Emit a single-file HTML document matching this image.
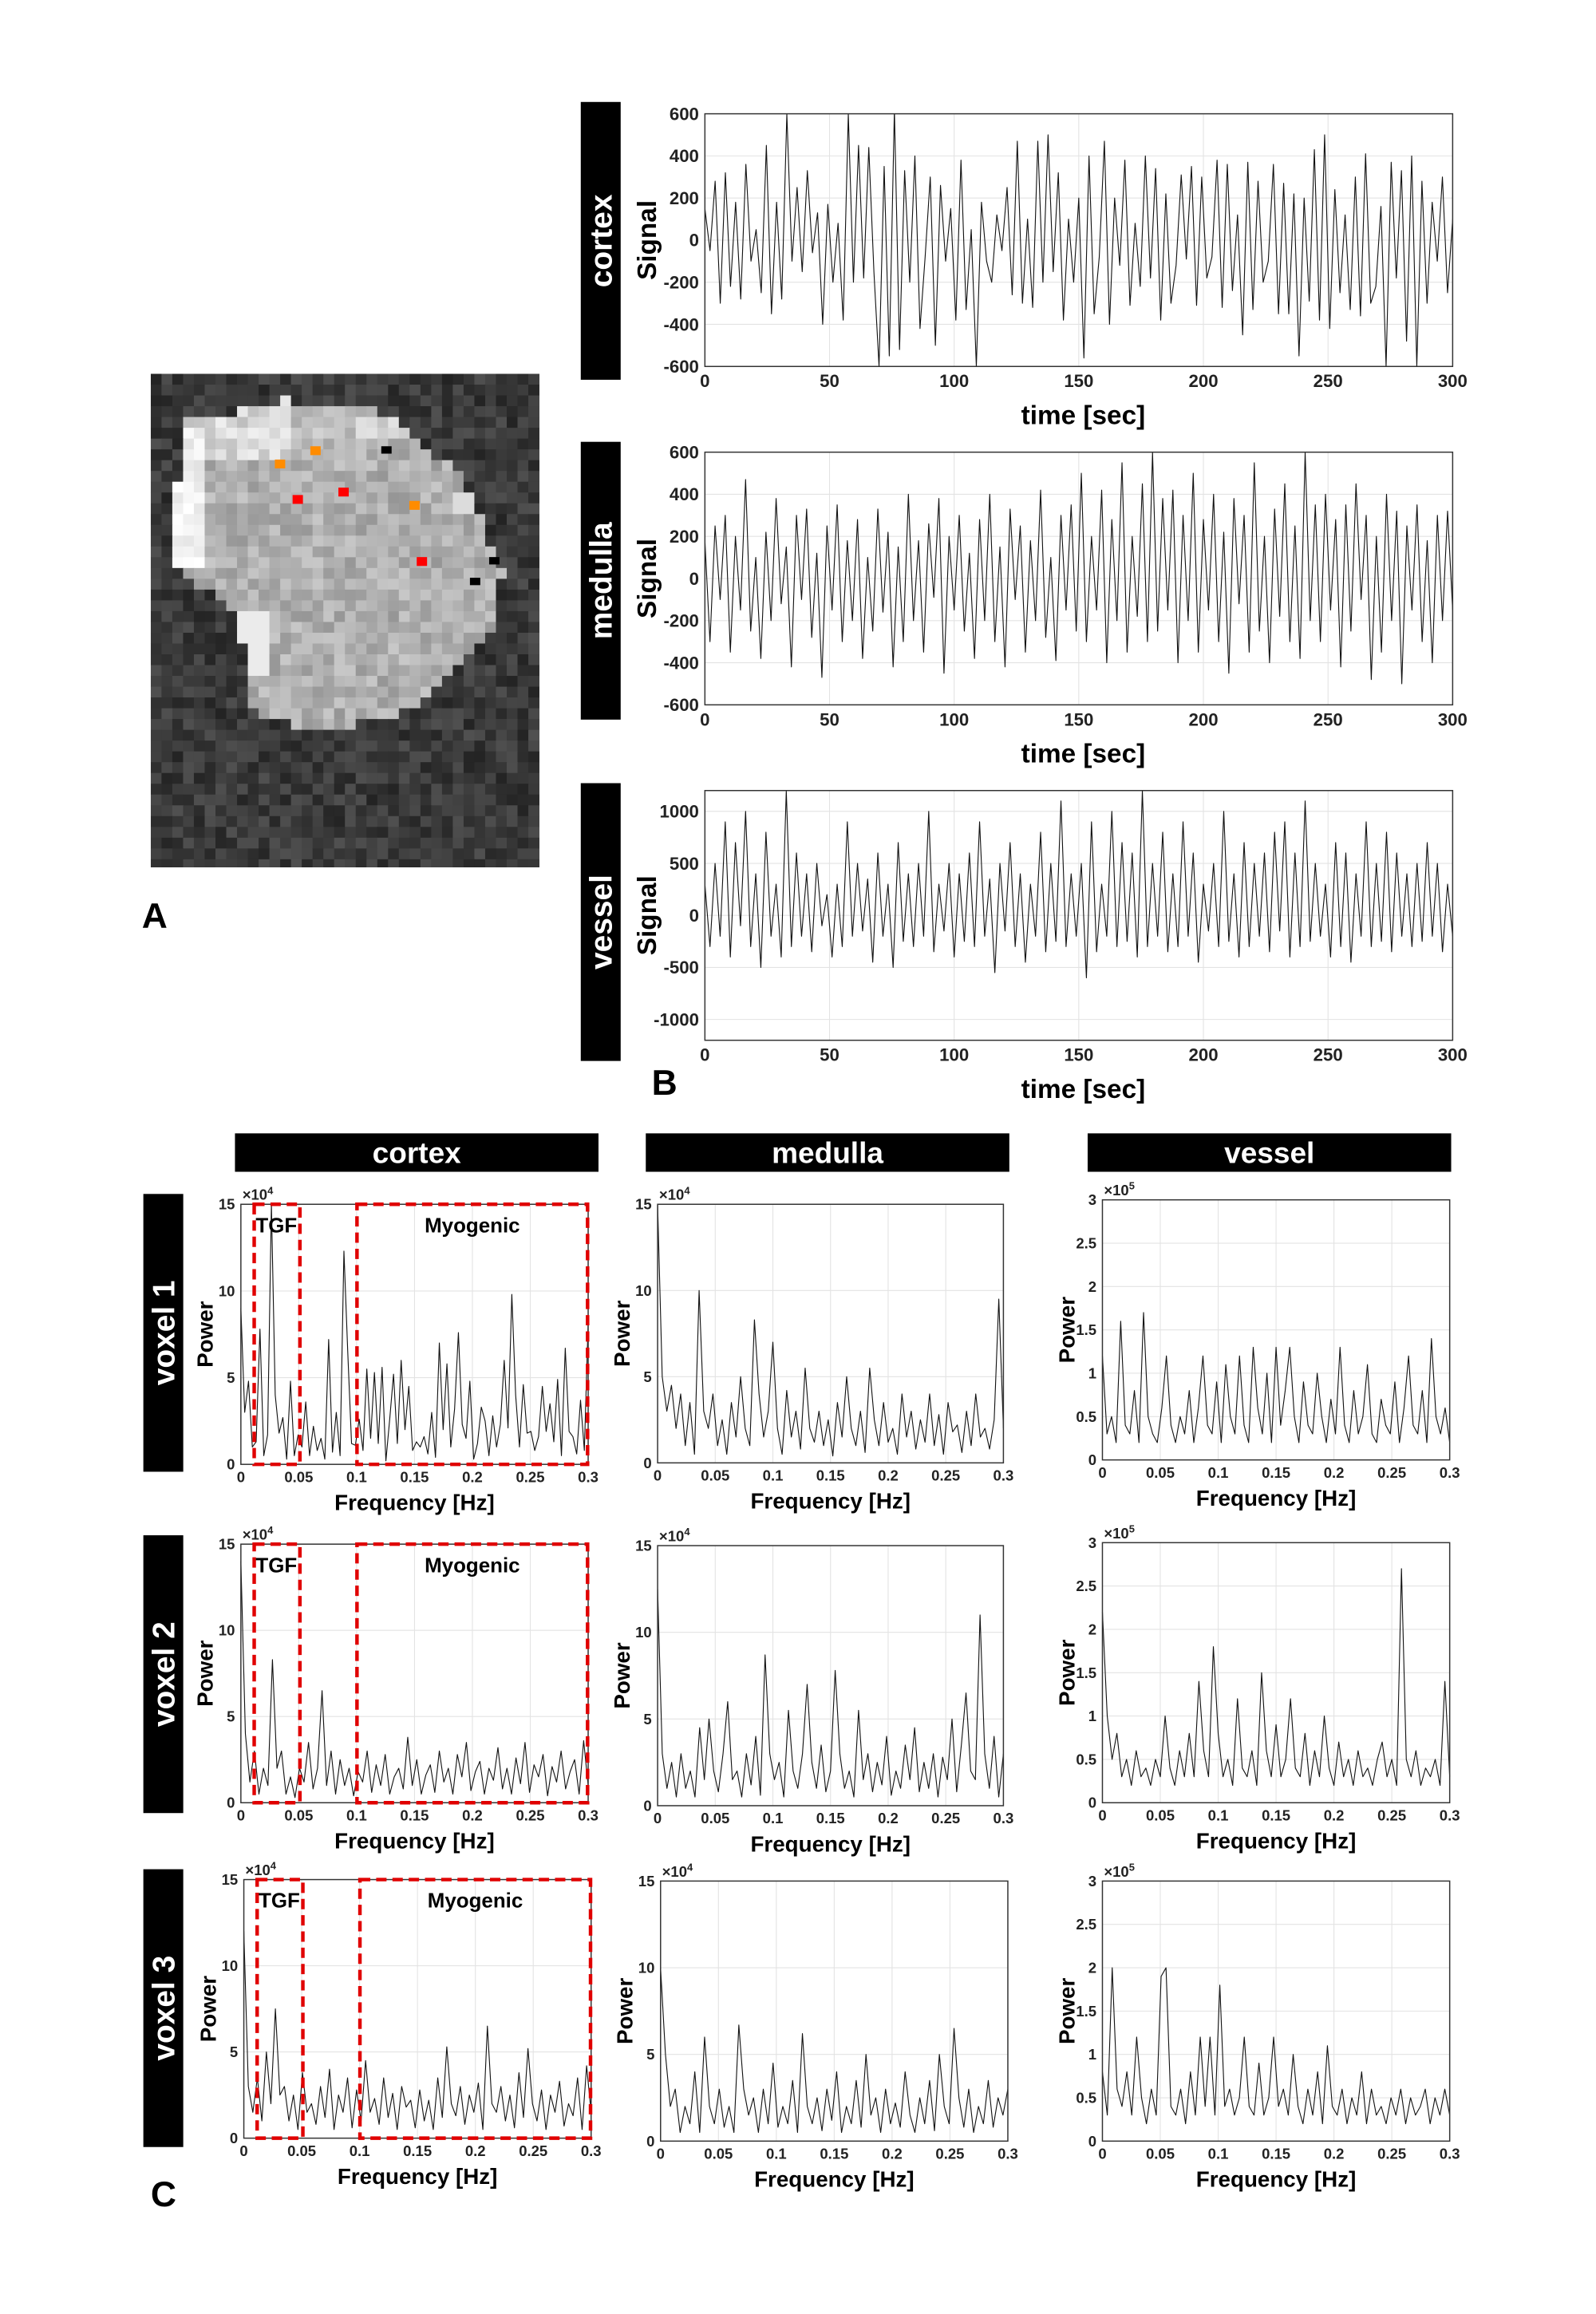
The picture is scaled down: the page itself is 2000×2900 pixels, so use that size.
<!DOCTYPE html>
<html><head><meta charset="utf-8"><style>
html,body{margin:0;padding:0;background:#fff}
svg{display:block}
text{font-family:"Liberation Sans",Arial,sans-serif;font-weight:bold}
</style></head><body>
<svg id="fig" xmlns="http://www.w3.org/2000/svg" width="2000" height="2900" viewBox="0 0 1080 1566">
<defs>
<clipPath id="imgclip"><rect x="102" y="253" width="263" height="334"/></clipPath>
</defs>
<g id="mri" clip-path="url(#imgclip)">
<rect x="102" y="253" width="263" height="334" fill="#3b3b3b"/>
<g id="mripix"></g>
<rect x="210" y="302" width="7" height="6" fill="#ff8c00"/>
<rect x="186" y="311" width="7" height="6" fill="#ff8c00"/>
<rect x="277" y="339" width="7" height="6" fill="#ff8c00"/>
<rect x="258" y="302" width="7" height="5" fill="#000"/>
<rect x="331" y="377" width="7" height="5" fill="#000"/>
<rect x="318" y="391" width="7" height="5" fill="#000"/>
<rect x="198" y="335" width="7" height="6" fill="#ff0000"/>
<rect x="229" y="330" width="7" height="6" fill="#ff0000"/>
<rect x="282" y="377" width="7" height="6" fill="#ff0000"/>
</g>
<text x="96" y="628" font-size="24">A</text>
<text x="441" y="741" font-size="24">B</text>
<text x="102" y="1493" font-size="24">C</text>
<g id="plots"></g>
</svg>
<script>
const timeTicksX = [0,50,100,150,200,250,300];
const signalTicksY = [-600,-400,-200,0,200,400,600];
const vesselTicksY = [-1000,-500,0,500,1000];
const freqTicksX = [0,0.05,0.1,0.15,0.2,0.25,0.3];
const freqTickLabels = ["0","0.05","0.1","0.15","0.2","0.25","0.3"];
const powerTicksCM = [0,5,10,15];
const powerTicksV = [0,0.5,1,1.5,2,2.5,3];
const tissueNames = ["cortex","medulla","vessel"];
const voxelNames = ["voxel 1","voxel 2","voxel 3"];

const cortexSignal = [150,-50,280,-300,320,-220,180,-280,360,-100,50,-250,450,-350,180,-280,600,-100,250,-150,330,-60,130,-400,170,-200,80,-380,600,-200,450,-180,440,-150,-600,350,-550,620,-520,330,-200,400,-420,-80,300,-500,260,-100,150,-380,380,-330,50,-600,180,-100,-200,120,-50,250,-260,470,-300,100,-320,470,-200,500,-150,320,-380,100,-200,200,-560,400,-350,-80,470,-400,200,-120,380,-310,80,-220,400,-180,340,-380,220,-300,-120,310,-90,350,-310,300,-180,-80,380,-320,360,-240,120,-450,370,-330,280,-200,-100,360,-350,270,-350,220,-550,200,-290,430,-380,500,-420,240,-250,120,-330,300,-360,410,-300,-220,160,-600,370,-180,330,-480,400,-600,280,-300,180,-100,300,-250,100];
const medullaSignal = [180,-300,250,-100,300,-350,200,-150,470,-250,100,-380,220,-200,380,-120,150,-420,300,-100,330,-280,120,-470,250,-150,350,-300,180,-200,280,-380,100,-250,330,-160,220,-420,150,-300,400,-200,180,-350,260,-90,380,-450,200,-150,300,-250,120,-380,280,-200,400,-300,150,-420,330,-100,250,-350,180,-200,420,-280,100,-390,300,-150,350,-250,500,-300,200,-150,420,-400,280,-200,550,-350,200,-180,450,-300,600,-250,380,-150,420,-400,300,-200,500,-350,280,-150,400,-300,220,-450,380,-120,300,-350,550,-250,200,-400,330,-180,450,-300,250,-380,600,-200,350,-300,400,-150,280,-420,350,-250,450,-100,300,-480,200,-350,400,-200,320,-500,250,-150,350,-300,180,-400,300,-200,320,-150];
const vesselSignal = [300,-300,500,-200,900,-400,700,-100,1000,-300,400,-500,800,-200,300,-400,1200,-300,600,-200,400,-350,500,-100,200,-400,300,-300,900,-200,500,-150,350,-450,600,-200,300,-500,700,-250,400,-300,500,-200,1000,-350,300,-150,500,-400,400,-250,600,-300,900,-200,350,-550,500,-150,700,-300,400,-450,300,-200,800,-350,500,-250,1100,-300,400,-200,500,-600,900,-350,300,-200,1000,-300,700,-250,600,-400,1200,-300,500,-200,800,-350,400,-300,900,-200,600,-450,300,-150,500,-300,1000,-250,400,-400,700,-300,500,-200,600,-350,800,-150,900,-400,600,-300,1100,-250,500,-200,300,-400,700,-300,600,-450,400,-200,900,-300,500,-250,800,-350,600,-200,400,-300,500,-250,700,-200,500,-350,300,-200];

const specCortex1 = [9,3,4.8,1,1.3,7.8,0.5,1.7,15,4,1.8,2.7,0.3,4.8,0.5,1.7,1,3.6,0.5,2.2,0.8,1.5,0.3,7.2,0.7,3,0.5,12.3,6.5,1.2,1.1,2.6,0.8,5.5,1.5,5.3,1.2,5.6,0.2,2.6,5.2,1.2,6,2,4.5,0.8,1.3,1,1.6,0.6,3,0.4,7,2,5.8,1,3.2,7.6,2.3,1.5,4.8,0.3,1.2,3.3,2.5,0.5,2.8,1,2.3,6,2.1,9.8,4,1,4.6,1.8,1.9,0.8,1.6,4.5,1.9,3.5,1.3,4.9,0.5,6.7,1.9,1.6,0.6,3.7,0.8,8.2];
const specCortex2 = [14,4,1.2,3,0.5,2,1,8.3,2,3,0.5,1.5,0.3,2,1.2,3.5,0.8,2,6.5,1,3,0.5,2.5,1,2,0.4,1.8,1.2,3,0.6,2.2,1,2.8,0.5,1.5,2,0.8,3.8,1,2.5,0.5,1.6,2.2,0.6,3,1.2,2,0.5,2.8,1.5,3.5,0.7,1.8,2.4,0.5,2,1.3,3.2,0.8,2,0.5,2.6,1.1,3.5,0.6,2.2,1.5,2.8,0.4,2.1,1.2,3,0.8,1.8,2.5,0.5,3.6,1];
const specCortex3 = [12,3,1.5,3.5,1,5,2,7.5,2.5,3,1,2.5,0.5,3.8,1.5,2,0.8,3,1.2,4,0.5,2.5,1.5,3.5,0.6,2.8,1,4.5,1.5,2.3,0.8,3.5,1.2,2.6,0.5,3,1.8,2.2,0.6,2.8,1,2.2,0.5,3.5,1.2,5.3,2,1.3,3,0.8,2.5,1.5,3.2,0.5,6.5,2,1.5,3,1,2.5,0.6,3.8,1.2,5.2,2,1,2.8,0.5,2.5,1.5,3.3,0.7,2,1.3,3.5,0.5,4.2,1.5];
const specMedulla1 = [15,5,3,4.5,2,4,1,3.5,0.5,10,3,2,4,1,2.5,0.5,3.5,1.5,5,2,1,8.3,4,1.5,3,7,2,0.5,4.2,1.5,3,0.8,5.5,2,1.2,3,1,2.5,0.4,3.5,1.5,5,2,1,3,0.6,5.5,2.5,1,3.5,1.2,2,0.5,4,1.5,3,0.8,2.5,1.2,4,1,2.8,0.5,3.5,1.8,2.2,0.6,3,1,4,1.5,2,0.8,2.5,9.5,2];
const specMedulla2 = [12.5,3,1,2.5,0.5,3,1,2,0.5,4.5,1.5,5,2,0.8,3,6,1.5,2,0.5,3,1.2,4,0.6,8.7,3,1.5,2.5,0.5,5.5,2,1,3,7,2.5,1,3.5,0.8,2,7.8,3,1,2,0.5,5.5,1.5,3,0.8,2.5,1.2,4,0.6,2,1,3.5,1.5,4.5,0.8,2.5,1,3,0.5,2.8,1.5,5,0.8,3.5,6.5,2,1.5,11,3,1,4,0.5,3];
const specMedulla3 = [10,5,2,3,0.5,2,1,4,0.5,6,2,1,3,0.8,2,0.5,6.7,3,1.5,2.5,0.5,3,1,4.5,0.8,2,1,3.5,0.5,6.2,2,1,2.5,0.6,3,1.2,4,0.5,2,1,3.5,0.8,5,1.5,2.5,0.5,3,1,2.2,0.8,4,1.5,0.5,2.5,1,3.5,0.6,5,2,1,6.5,2.5,0.8,3,0.5,2,1,3.5,0.8,2.5,1.5,3];
const specVessel1 = [1.2,0.3,0.5,0.2,1.6,0.4,0.3,0.8,0.2,1.7,0.5,0.3,0.2,0.6,1.2,0.4,0.2,0.5,0.3,0.8,0.2,0.6,1.2,0.4,0.3,0.9,0.2,1.1,0.5,0.3,1.2,0.4,0.2,1.3,0.6,0.3,1.0,0.2,1.3,0.4,0.8,1.3,0.5,0.2,0.9,0.4,0.3,1.0,0.5,0.2,0.7,0.3,1.3,0.4,0.2,0.8,0.3,0.5,1.1,0.3,0.2,0.7,0.4,0.3,0.9,0.2,0.6,1.2,0.4,0.3,0.8,0.2,1.4,0.5,0.3,0.6,0.2];
const specVessel2 = [2.2,1,0.5,0.8,0.3,0.5,0.2,0.6,0.3,0.4,0.2,0.5,0.3,1,0.4,0.2,0.6,0.3,0.8,0.3,1.4,0.6,0.3,1.8,0.8,0.3,0.5,0.2,1.2,0.4,0.3,0.6,0.2,1.5,0.6,0.3,0.9,0.3,0.5,1.2,0.4,0.3,0.8,0.2,0.6,0.3,1,0.4,0.2,0.7,0.3,0.5,0.2,0.6,0.3,0.4,0.2,0.5,0.7,0.3,0.5,0.2,2.7,0.5,0.3,0.6,0.2,0.4,0.3,0.5,0.2,1.4,0.3];
const specVessel3 = [0.8,0.3,2.0,0.6,0.4,0.8,0.3,1.2,0.5,0.2,0.6,0.3,1.9,2.0,0.4,0.3,0.6,0.2,0.8,0.3,1.2,0.4,1.2,0.3,1.8,0.4,0.6,0.3,0.5,1.2,0.4,0.3,0.9,0.3,0.5,1.2,0.4,0.6,0.3,1.0,0.4,0.2,0.6,0.3,0.8,0.2,1.1,0.4,0.3,0.6,0.2,0.5,0.3,0.8,0.2,0.6,0.3,0.4,0.2,0.5,0.3,0.6,0.2,0.5,0.3,0.4,0.6,0.2,0.5,0.3,0.6,0.3];
const tgfBand = [0.0115, 0.051];
const myoBand = [0.1003, 0.2995];

const NS = "http://www.w3.org/2000/svg";
const root = document.getElementById("plots");
function mk(tag, attrs, parent, txt){
  const e = document.createElementNS(NS, tag);
  for (const k in attrs) e.setAttribute(k, attrs[k]);
  if (txt !== undefined) e.textContent = txt;
  (parent || root).appendChild(e);
  return e;
}

// ---- pixelated MRI texture ----
(function(){
  const pg = document.getElementById("mripix");
  const poly = [[126,286],[191,271],[254,276],[313,322],[340,387],[331,432],[272,484],[218,495],[173,486],[160,414],[131,393],[115,378],[120,324]];
  function inside(x,y){let c=false;for(let i=0,j=poly.length-1;i<poly.length;j=i++){const [xi,yi]=poly[i],[xj,yj]=poly[j];if(((yi>y)!=(yj>y))&&(x<(xj-xi)*(y-yi)/(yj-yi)+xi))c=!c;}return c;}
  function h(i,j){let s=Math.sin(i*12.9898+j*78.233)*43758.5453;return s-Math.floor(s);}
  const cs=7.3;
  for(let j=0;j<46;j++)for(let i=0;i<36;i++){
    const x=102+i*cs,y=253+j*cs,cx=x+cs/2,cy=y+cs/2;
    let v;
    if(inside(cx,cy)){
      v=150+h(i,j)*50;
      if(cx<137&&cy>290&&cy<385) v=225+h(i,j)*30;
      else if(cy<310&&cx<200) v=190+h(i,j)*50;
      else if(cy<300) v=170+h(i,j)*60;
      if(cx>163&&cx<180&&cy>410&&cy<460) v=235;
      if(cx>305&&cy>330&&cy<350) v=220;
      if(cx>315&&cy>440) v=210;
    } else v=35+h(i,j)*45;
    v=Math.min(255,Math.round(v));
    const r=mk("rect",{x:x.toFixed(1),y:y.toFixed(1),width:cs+0.3,height:cs+0.3,fill:`rgb(${v},${v},${v})`},pg);
  }
})();

function blackBarV(x,y,w,h,label,name){
  const g = mk("g",{});
  
  
  mk("rect",{x:x,y:y,width:w,height:h,fill:"#000"},g);
  mk("text",{x:0,y:0,fill:"#fff","font-size":21,"text-anchor":"middle",transform:`translate(${x+w/2+7.5},${y+h/2}) rotate(-90)`},g,label);
}
function blackBarH(x,y,w,h,label,name){
  const g = mk("g",{});
  
  
  mk("rect",{x:x,y:y,width:w,height:h,fill:"#000"},g);
  mk("text",{x:x+w/2,y:y+h/2+7,fill:"#fff","font-size":20,"text-anchor":"middle"},g,label);
}
function axes(L,T,R,B,xmin,xmax,ymin,ymax,xticks,xlabels,yticks,ylabels,fs,name){
  const g = mk("g",{});
  
  
  const sx = v => L + (v-xmin)/(xmax-xmin)*(R-L);
  const sy = v => B - (v-ymin)/(ymax-ymin)*(B-T);
  mk("rect",{x:L,y:T,width:R-L,height:B-T,fill:"#fff"},g);
  xticks.forEach((v,i)=>{
    mk("line",{x1:sx(v),x2:sx(v),y1:T,y2:B,stroke:"#e3e3e3","stroke-width":0.6},g);
    const tl = mk("text",{x:sx(v),y:B+fs+2,"font-size":fs,"text-anchor":"middle",fill:"#222"},g,xlabels[i]);
    
    
  });
  yticks.forEach((v,i)=>{
    mk("line",{x1:L,x2:R,y1:sy(v),y2:sy(v),stroke:"#e3e3e3","stroke-width":0.6},g);
    const tl = mk("text",{x:L-4,y:sy(v)+fs*0.35,"font-size":fs,"text-anchor":"end",fill:"#222"},g,ylabels[i]);
    
    
  });
  return {g,sx,sy,L,T,R,B};
}
function frame(a){
  mk("rect",{x:a.L,y:a.T,width:a.R-a.L,height:a.B-a.T,fill:"none",stroke:"#333","stroke-width":0.8},a.g);
}
function line(a,xs,ys,name){
  let d="";
  for(let i=0;i<ys.length;i++){ d += (i?"L":"M")+a.sx(xs[i]).toFixed(2)+","+a.sy(ys[i]).toFixed(2); }
  const p = mk("path",{d:d,fill:"none",stroke:"#111","stroke-width":0.6,"stroke-linejoin":"round"},a.g);
  
  
}

const timePanels = [
  {name:"cortex",data:cortexSignal,T:77,B:248,bar:[393,69,27,188],ymin:-600,ymax:600,yt:signalTicksY},
  {name:"medulla",data:medullaSignal,T:306,B:477,bar:[393,299,27,188],ymin:-600,ymax:600,yt:signalTicksY},
  {name:"vessel",data:vesselSignal,T:535,B:704,bar:[393,530,27,188],ymin:-1200,ymax:1200,yt:vesselTicksY}
];
timePanels.forEach(p=>{
  blackBarV(p.bar[0],p.bar[1],p.bar[2],p.bar[3],p.name,p.name+"-row-label");
  const a = axes(477,p.T,983,p.B,0,300,p.ymin,p.ymax,timeTicksX,timeTicksX.map(String),p.yt,p.yt.map(String),12,p.name+"-time-chart");
  const xs = p.data.map((v,i)=>i*300/(p.data.length-1));
  const cp = "cp-"+p.name;
  const c = mk("clipPath",{id:cp},a.g); mk("rect",{x:477,y:p.T,width:506,height:p.B-p.T},c);
  const gg = mk("g",{"clip-path":`url(#${cp})`},a.g);
  line({g:gg,sx:a.sx,sy:a.sy},xs,p.data,p.name+"-signal-line");
  frame(a);
  const yl = mk("text",{x:0,y:0,"font-size":18,"text-anchor":"middle",transform:`translate(${444},${(p.T+p.B)/2}) rotate(-90)`},a.g,"Signal");
  
  
  const xl = mk("text",{x:733,y:p.B+39,"font-size":18,"text-anchor":"middle"},a.g,"time [sec]");
  
  
});

blackBarH(159,767,246,26,tissueNames[0],"cortex-column-header");
blackBarH(437,767,246,26,tissueNames[1],"medulla-column-header");
blackBarH(736,767,246,26,tissueNames[2],"vessel-column-header");
blackBarV(97,808,27,188,voxelNames[0],"voxel-1-label");
blackBarV(97,1039,27,188,voxelNames[1],"voxel-2-label");
blackBarV(97,1265,27,188,voxelNames[2],"voxel-3-label");

const specPanels = [
  {d:specCortex1,L:163,R:398,T:815,B:991,t:"cm",box:true,n:"cortex-voxel1"},
  {d:specMedulla1,L:445,R:679,T:815,B:990,t:"cm",box:false,n:"medulla-voxel1"},
  {d:specVessel1,L:746,R:981,T:812,B:988,t:"v",box:false,n:"vessel-voxel1"},
  {d:specCortex2,L:163,R:398,T:1045,B:1220,t:"cm",box:true,n:"cortex-voxel2"},
  {d:specMedulla2,L:445,R:679,T:1046,B:1222,t:"cm",box:false,n:"medulla-voxel2"},
  {d:specVessel2,L:746,R:981,T:1044,B:1220,t:"v",box:false,n:"vessel-voxel2"},
  {d:specCortex3,L:165,R:400,T:1272,B:1447,t:"cm",box:true,n:"cortex-voxel3"},
  {d:specMedulla3,L:447,R:682,T:1273,B:1449,t:"cm",box:false,n:"medulla-voxel3"},
  {d:specVessel3,L:746,R:981,T:1273,B:1449,t:"v",box:false,n:"vessel-voxel3"}
];
specPanels.forEach(p=>{
  const yt = p.t==="cm" ? powerTicksCM : powerTicksV;
  const ymax = p.t==="cm" ? 15 : 3;
  const a = axes(p.L,p.T,p.R,p.B,0,0.3,0,ymax,freqTicksX,freqTickLabels,yt,yt.map(String),10,p.n+"-spectrum");
  const xs = p.d.map((v,i)=>i*0.3/(p.d.length-1));
  line(a,xs,p.d,p.n+"-power-line");
  frame(a);
  const ex = mk("text",{x:p.L+1,y:p.T-3,"font-size":10,"font-weight":"normal",fill:"#222"},a.g);
  
  
  mk("tspan",{},ex,"×10");
  mk("tspan",{dy:-4,"font-size":7},ex,p.t==="cm"?"4":"5");
  const yl = mk("text",{x:0,y:0,"font-size":15,"text-anchor":"middle",transform:`translate(${p.L-19},${(p.T+p.B)/2}) rotate(-90)`},a.g,"Power");
  
  
  const xl = mk("text",{x:(p.L+p.R)/2,y:p.B+31,"font-size":15,"text-anchor":"middle"},a.g,"Frequency [Hz]");
  
  
  if(p.box){
    const b1 = mk("rect",{x:a.sx(tgfBand[0]),y:p.T,width:a.sx(tgfBand[1])-a.sx(tgfBand[0]),height:p.B-p.T,fill:"none",stroke:"#e00000","stroke-width":2.4,"stroke-dasharray":"7,4"},a.g);
    
    
    const b2 = mk("rect",{x:a.sx(myoBand[0]),y:p.T,width:a.sx(myoBand[1])-a.sx(myoBand[0]),height:p.B-p.T,fill:"none",stroke:"#e00000","stroke-width":2.4,"stroke-dasharray":"7,4"},a.g);
    
    
    const t1 = mk("text",{x:a.sx(tgfBand[0])+1,y:p.T+19,"font-size":14},a.g,"TGF");
    
    
    const t2 = mk("text",{x:(a.sx(myoBand[0])+a.sx(myoBand[1]))/2,y:p.T+19,"font-size":14,"text-anchor":"middle"},a.g,"Myogenic");
    
    
  }
});
</script>
</body></html>
